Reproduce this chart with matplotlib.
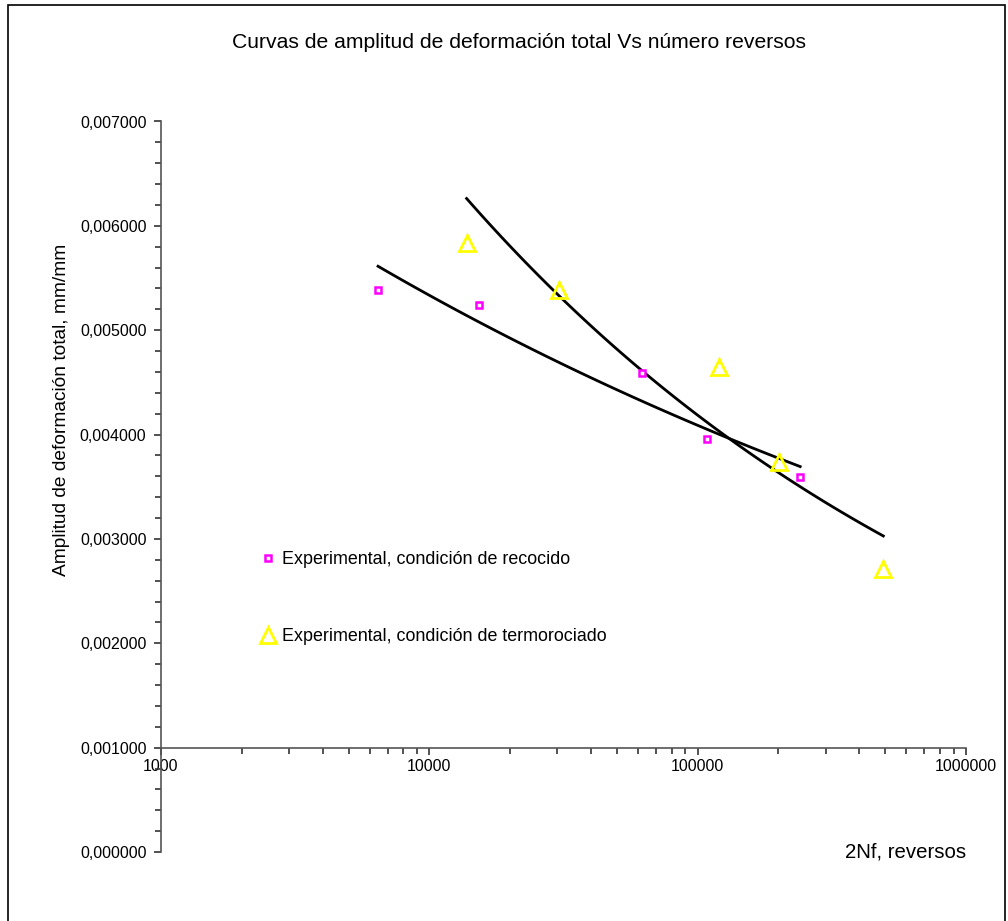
import numpy as np
import matplotlib.pyplot as plt
from matplotlib.ticker import LogLocator, MultipleLocator, FuncFormatter, FixedLocator
from matplotlib.patches import Rectangle

plt.rcParams['font.family'] = ['Liberation Sans', 'DejaVu Sans']

ciclos_recocido = [6440, 15300, 62100, 108400, 241000]
amp_recocido = [0.005383, 0.005242, 0.004591, 0.003959, 0.003592]

ciclos_termo = [13770, 30400, 120300, 201500, 492000]
amp_termo = [0.005833, 0.005383, 0.004649, 0.003739, 0.002711]

x_ticks = [1000, 10000, 100000, 1000000]
y_ticks = [0.0, 0.001, 0.002, 0.003, 0.004, 0.005, 0.006, 0.007]

label_recocido = 'Experimental, condición de recocido'
label_termo = 'Experimental, condición de termorociado'


def power_trend(x, y):
    # Excel style power trendline y = a*x^b over the data range
    b, loga = np.polyfit(np.log10(x), np.log10(y), 1)
    xs = np.logspace(np.log10(min(x)), np.log10(max(x)), 100)
    return xs, 10 ** loga * xs ** b


fig = plt.figure(figsize=(10.08, 9.21), dpi=100)
ax = fig.add_axes([161 / 1008, 1 - 852 / 921, (966 - 161) / 1008, (852 - 121.5) / 921])

xs, ys = power_trend(ciclos_recocido, amp_recocido)
ax.plot(xs, ys, color='black', lw=2)
xs, ys = power_trend(ciclos_termo, amp_termo)
ax.plot(xs, ys, color='black', lw=2)

ax.plot(ciclos_recocido, amp_recocido, linestyle='none', marker='s', ms=5,
        mfc='white', mec='#FF00FF', mew=1.8, label=label_recocido)
ax.plot(ciclos_termo, amp_termo, linestyle='none', marker='^', ms=11,
        mfc='none', mec='#FFFF00', mew=2, label=label_termo)

ax.set_xscale('log')
ax.set_xlim(1000, 1000000)
ax.set_ylim(0, 0.007)

for s in ['top', 'right']:
    ax.spines[s].set_visible(False)
ax.spines['bottom'].set_position(('data', 0.001))
for s in ['bottom', 'left']:
    ax.spines[s].set_color('#555555')
    ax.spines[s].set_linewidth(1.2)

ax.xaxis.set_major_locator(FixedLocator(x_ticks))
ax.xaxis.set_major_formatter(FuncFormatter(lambda v, p: '%d' % v))
ax.xaxis.set_minor_locator(LogLocator(base=10, subs=np.arange(2, 10)))
ax.xaxis.set_minor_formatter(FuncFormatter(lambda v, p: ''))
ax.yaxis.set_major_locator(FixedLocator(y_ticks))
ax.yaxis.set_major_formatter(FuncFormatter(lambda v, p: ('%.6f' % v).replace('.', ',')))
ax.yaxis.set_minor_locator(MultipleLocator(0.0002))

ax.tick_params(axis='both', which='both', direction='out', color='#333333', width=1.2)
ax.tick_params(axis='both', which='major', length=5, labelsize=11.5)
ax.tick_params(axis='both', which='minor', length=4)
ax.tick_params(axis='x', which='major', pad=3)
ax.tick_params(axis='y', which='major', pad=5.5)

ax.legend(loc='upper left', bbox_to_anchor=(0.113, 0.424), frameon=False, fontsize=12.9,
          labelspacing=3.33, handlelength=0.8, handletextpad=0.4, borderpad=0)

fig.text(519 / 1008, 1 - 42 / 921, 'Curvas de amplitud de deformación total Vs número reversos',
         ha='center', va='center', fontsize=15.2)
fig.text(62 / 1008, 1 - 410 / 921, 'Amplitud de deformación total, mm/mm',
         ha='center', va='center', rotation=90, fontsize=13.75)
fig.text(966 / 1008, 1 - 852 / 921, '2Nf, reversos', ha='right', va='center', fontsize=14.7)

fig.patches.append(Rectangle((7.5 / 1008, -0.05), 997 / 1008, 1.05 - 5.5 / 921,
                             transform=fig.transFigure, fill=False, ec='black', lw=1.2))

fig.savefig('out.png', dpi=100)
